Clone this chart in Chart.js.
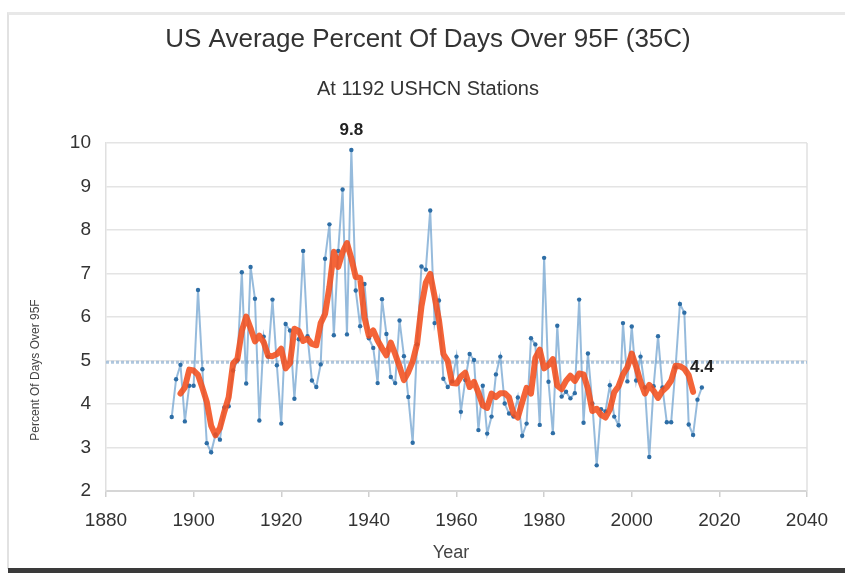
<!DOCTYPE html>
<html><head><meta charset="utf-8">
<script src="https://cdn.jsdelivr.net/npm/chart.js@4"></script>
<style>
html,body{margin:0;padding:0;background:#fff;width:845px;height:573px;overflow:hidden;}
#frame{position:absolute;left:7px;top:12px;width:838px;height:557px;border-left:2px solid #e2e2e2;border-top:3px solid #e8e8e8;box-sizing:border-box;}
#bottom{position:absolute;left:8px;top:568px;width:837px;height:5px;background:#3a3a3a;}
canvas{position:absolute;left:0;top:0;}
</style></head><body>
<div id="frame"></div><div id="bottom"></div>
<canvas id="c" width="845" height="573"></canvas>
<script>
const titleText = "US Average Percent Of Days Over 95F (35C)";
const subtitleText = "At 1192 USHCN Stations";
const yTitle = "Percent Of Days Over 95F";
const xTitle = "Year";

const years = [
 1895,1896,1897,1898,1899,1900,1901,1902,1903,1904,
 1905,1906,1907,1908,1909,1910,1911,1912,1913,1914,
 1915,1916,1917,1918,1919,1920,1921,1922,1923,1924,
 1925,1926,1927,1928,1929,1930,1931,1932,1933,1934,
 1935,1936,1937,1938,1939,1940,1941,1942,1943,1944,
 1945,1946,1947,1948,1949,1950,1951,1952,1953,1954,
 1955,1956,1957,1958,1959,1960,1961,1962,1963,1964,
 1965,1966,1967,1968,1969,1970,1971,1972,1973,1974,
 1975,1976,1977,1978,1979,1980,1981,1982,1983,1984,
 1985,1986,1987,1988,1989,1990,1991,1992,1993,1994,
 1995,1996,1997,1998,1999,2000,2001,2002,2003,2004,
 2005,2006,2007,2008,2009,2010,2011,2012,2013,2014,
 2015,2016];

const annualPercent = [
 3.70,4.57,4.90,3.60,4.42,4.42,6.62,4.80,3.10,2.89,
 3.30,3.18,3.92,3.95,4.77,5.00,7.03,4.47,7.15,6.42,
 3.62,5.55,5.09,6.40,4.89,3.55,5.84,5.69,4.12,5.49,
 7.52,5.56,4.54,4.39,4.91,7.34,8.13,5.58,7.52,8.93,
 5.60,9.84,6.61,5.79,6.76,5.51,5.29,4.48,6.41,5.61,
 4.62,4.48,5.92,5.10,4.16,3.11,5.37,7.16,7.09,8.45,
 5.86,6.38,4.58,4.39,4.52,5.09,3.82,4.55,5.15,5.01,
 3.40,4.42,3.32,3.71,4.68,5.09,4.01,3.78,3.71,4.15,
 3.27,3.55,5.51,5.37,3.52,7.36,4.51,3.33,5.80,4.17,
 4.28,4.13,4.25,6.40,3.57,5.16,4.01,2.59,3.88,3.83,
 4.43,3.71,3.51,5.86,4.52,5.78,4.54,5.09,4.38,2.78,
 4.41,5.56,4.38,3.58,3.58,4.84,6.30,6.10,3.53,3.29,
 4.10,4.38];

const smoothYears = years.slice(2, 120); // 1897 .. 2014
const smoothPercent = [
 4.24,4.38,4.79,4.77,4.67,4.37,4.05,3.50,3.28,3.45,
 3.82,4.16,4.93,5.04,5.68,6.01,5.74,5.44,5.57,5.42,
 5.11,5.10,5.15,5.27,4.82,4.94,5.73,5.68,5.45,5.50,
 5.38,5.35,5.86,6.07,6.70,7.50,7.15,7.49,7.70,7.35,
 6.92,6.90,5.99,5.57,5.69,5.46,5.28,5.12,5.41,5.15,
 4.86,4.55,4.73,4.98,5.38,6.24,6.79,6.99,6.47,5.93,
 5.15,4.99,4.48,4.47,4.63,4.72,4.39,4.51,4.26,3.97,
 3.91,4.24,4.16,4.25,4.25,4.15,3.78,3.69,4.04,4.37,
 4.24,5.06,5.25,4.82,4.90,5.03,4.42,4.34,4.53,4.65,
 4.53,4.70,4.68,4.35,3.84,3.89,3.75,3.69,3.87,4.27,
 4.41,4.68,4.84,5.16,4.86,4.51,4.24,4.44,4.30,4.14,
 4.30,4.39,4.54,4.88,4.87,4.81,4.66,4.28];

const meanPercent = 4.96;
const xRange = [1880, 2040];
const labelYears = [1936, 2016];

const FONT = "'Liberation Sans', Arial, Helvetica, sans-serif";

const decoPlugin = {
  id: 'deco',
  beforeDatasetsDraw(chart) {
    const {ctx, chartArea: a} = chart;
    ctx.save();
    ctx.strokeStyle = '#e0e0e0'; ctx.lineWidth = 1.5;
    ctx.beginPath(); ctx.moveTo(a.right, a.top); ctx.lineTo(a.right, a.bottom); ctx.stroke();
    ctx.restore();
  },
  afterDatasetsDraw(chart) {
    const ctx = chart.ctx, xs = chart.scales.x, ys = chart.scales.y;
    ctx.save();
    ctx.fillStyle = '#222'; ctx.textAlign = 'center'; ctx.textBaseline = 'middle';
    ctx.font = `bold 17px ${FONT}`;
    labelYears.forEach(yr => {
      const v = annualPercent[years.indexOf(yr)];
      ctx.fillText(v.toFixed(1), xs.getPixelForValue(yr), ys.getPixelForValue(v) - 20);
    });
    ctx.restore();
  },
  afterDraw(chart) {
    const ctx = chart.ctx;
    ctx.save();
    ctx.fillStyle = '#333'; ctx.textAlign = 'center'; ctx.textBaseline = 'middle';
    ctx.font = `26px ${FONT}`; ctx.fillText(titleText, 428, 40);
    ctx.font = `20px ${FONT}`; ctx.fillText(subtitleText, 428, 89);
    ctx.font = `18px ${FONT}`; ctx.fillStyle = '#444'; ctx.fillText(xTitle, 451, 553);
    ctx.translate(36, 370); ctx.rotate(-Math.PI/2);
    ctx.font = `12px ${FONT}`; ctx.fillText(yTitle, 0, 0);
    ctx.restore();
  }
};

new Chart(document.getElementById('c'), {
  type: 'line',
  data: {
    datasets: [
      {
        label: 'Mean',
        data: xRange.map(x => ({x, y: meanPercent})),
        borderColor: 'rgba(155,185,214,0.8)', borderWidth: 3, borderDash: [3,2],
        pointRadius: 0, order: 3
      },
      {
        label: 'Annual',
        data: years.map((x, i) => ({x, y: annualPercent[i]})),
        borderColor: 'rgba(105,158,205,0.7)', borderWidth: 2,
        pointRadius: 2.2, pointBackgroundColor: '#2e6ea6', pointBorderWidth: 0,
        tension: 0, order: 2
      },
      {
        label: 'Smoothed',
        data: smoothYears.map((x, i) => ({x, y: smoothPercent[i]})),
        borderColor: 'rgba(242,78,28,0.88)', borderWidth: 6,
        pointRadius: 0, tension: 0, borderJoinStyle: 'round', borderCapStyle: 'round', order: 1
      }
    ]
  },
  options: {
    responsive: false, animation: false, devicePixelRatio: 1,
    layout: {padding: {top: 143, right: 38, bottom: 0, left: 0}},
    plugins: {legend: {display: false}, tooltip: {enabled: false}, title: {display: false}},
    scales: {
      x: {
        type: 'linear', min: xRange[0], max: xRange[1],
        ticks: {stepSize: 20, autoSkip: false, maxRotation: 0, padding: 12, color: '#333',
                font: {family: FONT, size: 19}, callback: v => String(v)},
        grid: {display: true, drawOnChartArea: false, drawTicks: true, tickLength: 6, color: '#cfcfcf', lineWidth: 1.5},
        border: {display: true, color: '#d6d6d6', width: 2},
        afterFit(s) { s.height = 82; }
      },
      y: {
        min: 2, max: 10,
        ticks: {stepSize: 1, padding: 15, color: '#333', font: {family: FONT, size: 19}},
        grid: {color: '#e4e4e4', lineWidth: 1.5, drawTicks: false},
        border: {display: true, color: '#e0e0e0', width: 1.5},
        afterFit(s) { s.width = 106; }
      }
    }
  },
  plugins: [decoPlugin]
});
</script>
</body></html>
